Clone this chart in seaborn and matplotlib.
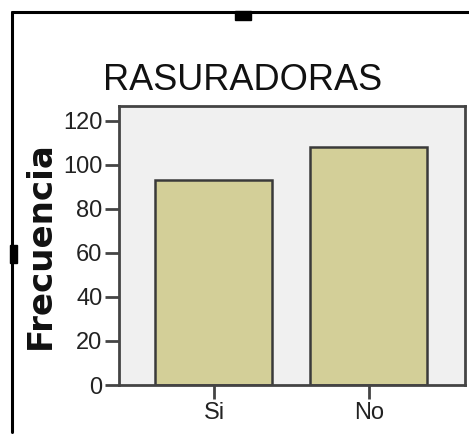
import matplotlib
matplotlib.use("Agg")
import matplotlib.pyplot as plt
import seaborn as sns
import pandas as pd
from matplotlib.patches import Rectangle
from matplotlib.lines import Line2D

categories = ["Si", "No"]
values = [93, 108]
yticks = [0, 20, 40, 60, 80, 100, 120]
title = "RASURADORAS"
ylabel = "Frecuencia"

sns.set_style("white")
narrow = ["Liberation Sans Narrow", "Liberation Sans", "DejaVu Sans"]
plt.rcParams["font.family"] = narrow

W, H = 469, 437
fig = plt.figure(figsize=(W / 100, H / 100), dpi=100)
fig.patch.set_facecolor("white")
ax = fig.add_axes([119 / W, 1 - 385 / H, (465 - 119) / W, (385 - 106) / H])
ax.set_facecolor("#f0f0f0")

df = pd.DataFrame({"cat": categories, "val": values})
sns.barplot(data=df, x="cat", y="val", color="#d3cf98", width=0.755,
            edgecolor="#3a3a3a", linewidth=1.8, saturation=1, ax=ax)

ax.set_xlim(-0.613, 1.62)
ax.set_ylim(0, 126.8)
ax.set_yticks(yticks)
ax.set_yticklabels([str(t) for t in yticks])
for s in ax.spines.values():
    s.set_visible(True)
    s.set_color("#444444")
    s.set_linewidth(2)
ax.tick_params(axis="both", length=10, width=2, color="#444444",
               labelsize=17, labelcolor="#222222", pad=2, direction="out",
               left=True, bottom=True)
ax.set_xlabel("")
ax.set_ylabel(ylabel, fontsize=24.5, fontweight="bold", family="DejaVu Sans",
              color="#111111")
ax.yaxis.set_label_coords((57 - 119) / (465 - 119), 0.5)
ax.set_title("")
fig.text(243 / W, 1 - 80 / H, title, ha="center", va="center",
         fontsize=26, color="#111111", family=narrow)

# selection frame and handles
fig.add_artist(Line2D([12 / W, 1.0], [1 - 12 / H, 1 - 12 / H], color="black", lw=2.2,
                      transform=fig.transFigure))
fig.add_artist(Line2D([12 / W, 12 / W], [1 - 12 / H, 1 - 432 / H], color="black", lw=2.2,
                      transform=fig.transFigure))
fig.add_artist(Rectangle((235 / W, 1 - 20 / H), 16 / W, 9 / H, color="black",
                         transform=fig.transFigure))
fig.add_artist(Rectangle((10 / W, 1 - 263 / H), 7 / W, 18 / H, color="black",
                         transform=fig.transFigure))

fig.savefig("out.png", dpi=100)
